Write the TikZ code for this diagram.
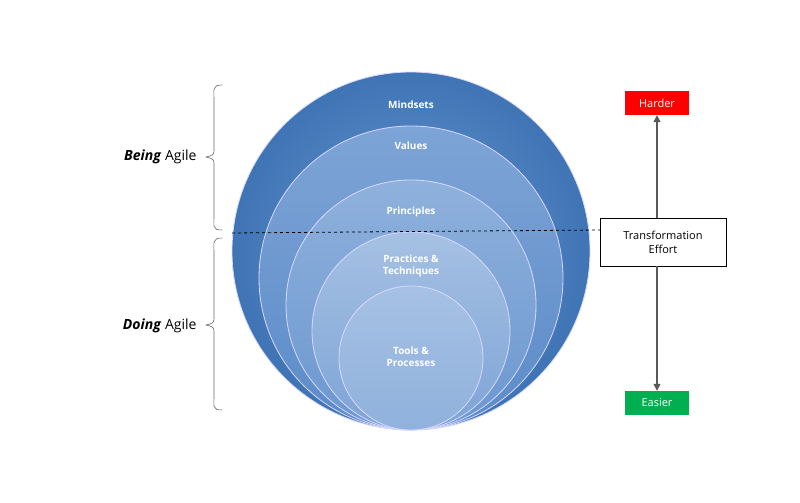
\documentclass[tikz,border=0pt]{standalone}
\usepackage{fontspec}
\setmainfont{Open Sans}
\usetikzlibrary{arrows.meta,decorations.pathreplacing}
\definecolor{c1}{HTML}{5B8BC8}
\definecolor{c1b}{HTML}{3F74B5}
\definecolor{c2}{HTML}{6B97CF}
\definecolor{c3}{HTML}{7DA4D6}
\definecolor{c4}{HTML}{8FB1DC}
\definecolor{c5}{HTML}{A6C1E4}
\definecolor{redbox}{HTML}{FF0000}
\definecolor{greenbox}{HTML}{00B050}
\tikzset{
  ring/.style={draw=white!85!blue, line width=0.8pt},
  lab/.style={text=white, font=\bfseries\fontsize{10}{12}\selectfont, align=center},
  side/.style={font=\fontsize{14}{16}\selectfont},
  brk/.style={draw=gray!80!black, line width=0.6pt},
  tag/.style={text=white, font=\fontsize{11}{13}\selectfont, minimum width=64pt, minimum height=24pt, inner sep=0pt},
  arr/.style={draw=gray!70!black, line width=1.5pt, -{Triangle[length=7pt,width=7pt]}}
}
\begin{document}
\begin{tikzpicture}[x=1pt,y=-1pt]
\useasboundingbox (0,0) rectangle (800,503);
\shade[ring, inner color=c2, outer color=c1b] (411,251) circle (179);
\shade[ring, top color=c3, bottom color=c1] (411,278) circle (152);
\shade[ring, top color=c4, bottom color=c2] (411,305) circle (125);
\shade[ring, top color=c4!80!white, bottom color=c3] (411,331) circle (99);
\shade[ring, top color=c5, bottom color=c4] (411,358) circle (72);
\node[lab] (m) at (411,105) {Mindsets};
\node[lab] (v) at (411,146) {Values};
\node[lab] (p) at (411,212) {Principles};
\node[lab] (pt) at (411,266) {Practices \&\\Techniques};
\node[lab] (t) at (411,357) {Tools \&\\Processes};
\coordinate (dl) at (232,233);
\coordinate (dr) at (600,230);
\draw[dashed, line width=0.8pt] (dl) -- (dr);
% brackets
\draw[brk] (222,85) .. controls (212,85) and (214,90) .. (214,100) -- (214,148) .. controls (214,155) .. (206,157) .. controls (214,159) .. (214,166) -- (214,216) .. controls (214,226) and (212,230) .. (222,230);
\draw[brk] (222,238) .. controls (212,238) and (214,243) .. (214,253) -- (214,316) .. controls (214,323) .. (206,325) .. controls (214,327) .. (214,334) -- (214,396) .. controls (214,406) and (212,410) .. (222,410);
\node[side, anchor=east] (ba) at (200,157) {\textbf{\textit{Being}} Agile};
\node[side, anchor=east] (da) at (200,326) {\textbf{\textit{Doing}} Agile};
% right
\node[tag, fill=redbox] (h) at (657,103) {Harder};
\node[tag, fill=greenbox] (e) at (657,403) {Easier};
\node[draw, fill=white, line width=0.6pt, minimum width=126pt, minimum height=48pt, align=center, font=\fontsize{11}{14}\selectfont] (te) at (663,242) {Transformation\\Effort};
\draw[arr] (te.north -| h) -- (h.south);
\draw[arr] (te.south -| e) -- (e.north);
\end{tikzpicture}
\end{document}
